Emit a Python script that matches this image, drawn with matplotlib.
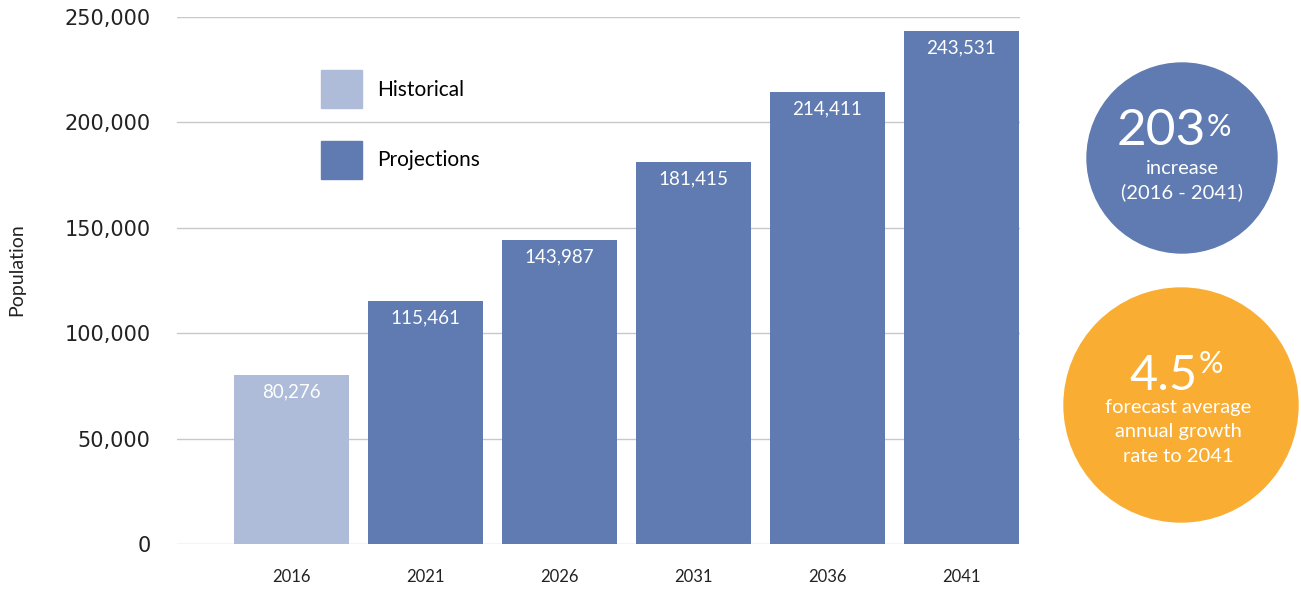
import matplotlib.pyplot as plt
from matplotlib.patches import Patch, Circle

years = ["2016", "2021", "2026", "2031", "2036", "2041"]
population = [80276, 115461, 143987, 181415, 214411, 243531]
kind = ["Historical", "Projections", "Projections", "Projections", "Projections", "Projections"]
yticks = [0, 50000, 100000, 150000, 200000, 250000]

light = "#aebcd9"
dark = "#5f7bb1"
orange = "#f9ae33"
txt = "#222222"
W, H = 1301, 590

fig = plt.figure(figsize=(W / 100, H / 100), dpi=100)
ax = fig.add_axes([177 / W, 46 / H, (1020 - 177) / W, (544 - 17) / H])

cols = [light if k == "Historical" else dark for k in kind]
x = range(len(years))
bars = ax.bar(x, population, width=0.858, color=cols, zorder=2)
for b, v in zip(bars, population):
    ax.annotate(f"{v:,}", (b.get_x() + b.get_width() / 2, v), xytext=(0, -6),
                textcoords="offset points", ha="center", va="top",
                color="white", fontsize=13.5, family="Lato")

ax.set_xlim(-0.854, 5.437)
ax.set_ylim(0, 250000)
ax.set_yticks(yticks)
ax.set_yticklabels([f"{t:,}" for t in yticks], fontsize=15, family="DejaVu Sans", color=txt)
ax.set_xticks(list(x))
ax.set_xticklabels(years, fontsize=12, family="Lato", color=txt)
ax.tick_params(axis="y", length=0, pad=19)
ax.tick_params(axis="x", length=0, pad=18)
ax.grid(axis="y", color="#c8c8c8", lw=1, zorder=0)
ax.set_axisbelow(True)
for s in ax.spines.values():
    s.set_visible(False)
ax.set_ylabel("Population", fontsize=14, family="Lato", color=txt)
ax.yaxis.set_label_coords(-0.18, 0.52)

handles = [Patch(color=light, label="Historical"), Patch(color=dark, label="Projections")]
ax.legend(handles=handles, loc="upper left", bbox_to_anchor=(321 / W, 1 - 70 / H),
          bbox_transform=fig.transFigure, frameon=False,
          prop={"family": "Lato", "size": 15},
          handlelength=1.95, handleheight=2.45, handletextpad=0.75,
          labelspacing=1.55, borderpad=0, borderaxespad=0)

# callout circles
ov = fig.add_axes([0, 0, 1, 1])
ov.set_xlim(0, W)
ov.set_ylim(H, 0)
ov.axis("off")
ov.add_patch(Circle((1182, 158), 95, color=dark))
ov.add_patch(Circle((1181, 405), 117, color=orange))
f = "Lato"
ov.text(1161, 131, "203", ha="center", va="center", color="white", fontsize=37, family=f)
ov.text(1207, 127, "%", ha="left", va="center", color="white", fontsize=22, family=f)
ov.text(1182, 168, "increase", ha="center", va="center", color="white", fontsize=14.5, family=f)
ov.text(1182, 192, "(2016 - 2041)", ha="center", va="center", color="white", fontsize=14.5, family=f)
ov.text(1164, 376, "4.5", ha="center", va="center", color="white", fontsize=35, family=f)
ov.text(1199, 364, "%", ha="left", va="center", color="white", fontsize=22, family=f)
ov.text(1178, 408, "forecast average", ha="center", va="center", color="white", fontsize=14.5, family=f)
ov.text(1178, 432, "annual growth", ha="center", va="center", color="white", fontsize=14.5, family=f)
ov.text(1178, 457, "rate to 2041", ha="center", va="center", color="white", fontsize=14.5, family=f)

fig.savefig("out.png", dpi=100)
